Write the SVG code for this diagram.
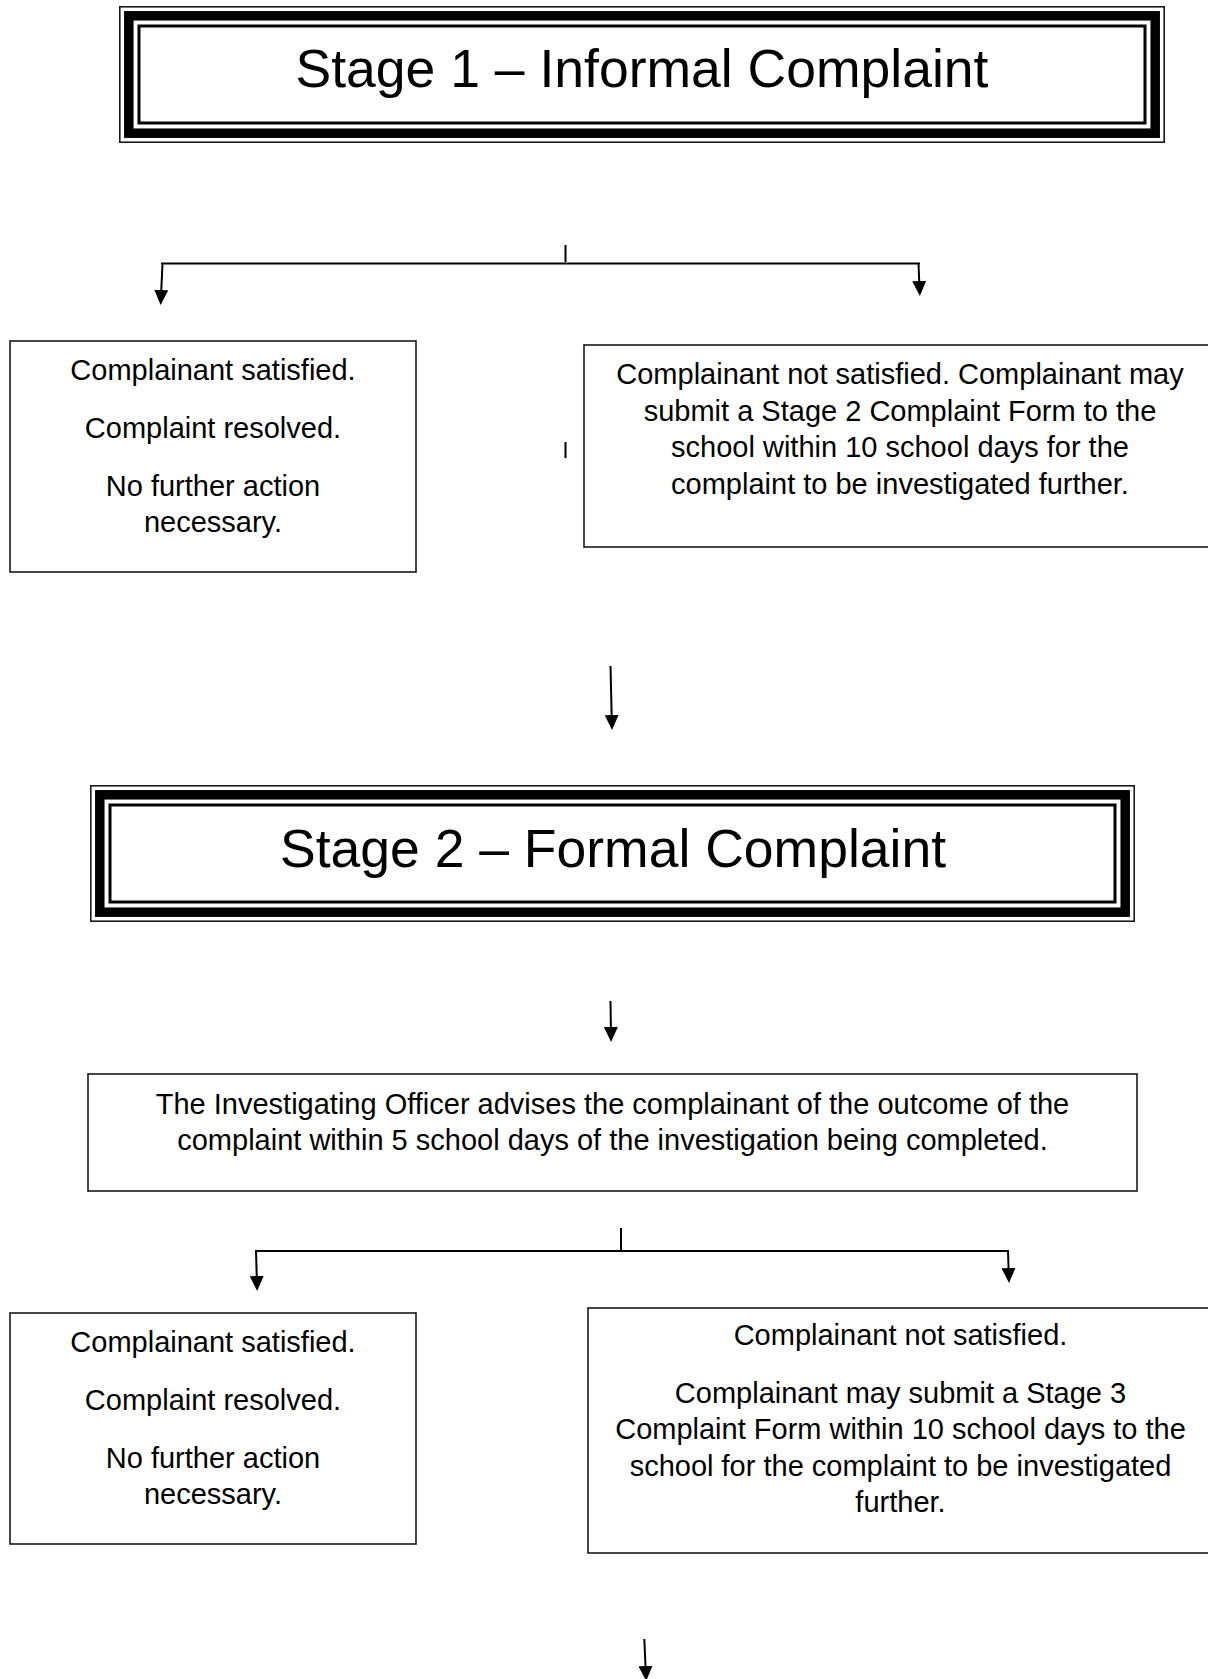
<svg xmlns="http://www.w3.org/2000/svg" width="1208" height="1679" viewBox="0 0 1208 1679">
<style>
  .bg { fill: #ffffff; }
  .box { fill: #ffffff; stroke: #1a1a1a; stroke-width: 1.6; }
  .tOuter { fill: none; stroke: #1a1a1a; stroke-width: 1.6; }
  .tBand { fill: none; stroke: #000000; stroke-width: 9.5; }
  .tInner { fill: none; stroke: #000000; stroke-width: 3; }
  .title { font-family: "Liberation Sans", Arial, sans-serif; font-size: 53.5px; fill: #000000; text-anchor: middle; }
  .txt { font-family: "Liberation Sans", Arial, sans-serif; font-size: 29px; fill: #000000; text-anchor: middle; }
  .ln { fill: none; stroke: #000000; stroke-width: 2; }
  .arr { fill: none; stroke: #000000; stroke-width: 2; marker-end: url(#ah); }
</style>
<defs>
  <marker id="ah" markerUnits="userSpaceOnUse" viewBox="0 0 15 14" refX="2" refY="7" markerWidth="15" markerHeight="14" orient="auto">
    <path d="M0,0 L15,7 L0,14 z" fill="#000000"/>
  </marker>
</defs>
<rect class="bg" x="0" y="0" width="1208" height="1679"/>

<g id="stage1">
  <rect class="tOuter" x="119.8" y="6.8" width="1044.4" height="135.4"/>
  <rect class="tBand" x="128.8" y="15.8" width="1026.4" height="117.4"/>
  <rect class="tInner" x="139" y="26" width="1006" height="97"/>
  <text class="title" x="642" y="87">Stage 1 – Informal Complaint</text>
</g>

<g id="s1-satisfied">
  <rect class="box" x="10" y="341" width="406" height="231"/>
  <text class="txt" x="213" y="380">Complainant satisfied.</text>
  <text class="txt" x="213" y="438">Complaint resolved.</text>
  <text class="txt" x="213" y="496">No further action</text>
  <text class="txt" x="213" y="532">necessary.</text>
</g>

<g id="s1-not-satisfied">
  <rect class="box" x="584" y="345" width="640" height="202"/>
  <text class="txt" x="900" y="384">Complainant not satisfied. Complainant may</text>
  <text class="txt" x="900" y="421">submit a Stage 2 Complaint Form to the</text>
  <text class="txt" x="900" y="457">school within 10 school days for the</text>
  <text class="txt" x="900" y="494">complaint to be investigated further.</text>
</g>

<g id="stage2">
  <rect class="tOuter" x="90.8" y="785.8" width="1043.4" height="135.4"/>
  <rect class="tBand" x="99.8" y="794.8" width="1025.4" height="117.4"/>
  <rect class="tInner" x="110" y="805" width="1005" height="97"/>
  <text class="title" x="613" y="867">Stage 2 – Formal Complaint</text>
</g>

<g id="s2-outcome">
  <rect class="box" x="88" y="1074" width="1049" height="117"/>
  <text class="txt" x="612.5" y="1114">The Investigating Officer advises the complainant of the outcome of the</text>
  <text class="txt" x="612.5" y="1150">complaint within 5 school days of the investigation being completed.</text>
</g>

<g id="s2-satisfied">
  <rect class="box" x="10" y="1313" width="406" height="231"/>
  <text class="txt" x="213" y="1352">Complainant satisfied.</text>
  <text class="txt" x="213" y="1410">Complaint resolved.</text>
  <text class="txt" x="213" y="1468">No further action</text>
  <text class="txt" x="213" y="1504">necessary.</text>
</g>

<g id="s2-not-satisfied">
  <rect class="box" x="588" y="1308" width="640" height="245"/>
  <text class="txt" x="900.5" y="1345">Complainant not satisfied.</text>
  <text class="txt" x="900.5" y="1403">Complainant may submit a Stage 3</text>
  <text class="txt" x="900.5" y="1439">Complaint Form within 10 school days to the</text>
  <text class="txt" x="900.5" y="1476">school for the complaint to be investigated</text>
  <text class="txt" x="900.5" y="1512">further.</text>
</g>

<g id="connectors">
  <line class="ln" x1="565.5" y1="245" x2="565.5" y2="262"/>
  <line class="ln" x1="161" y1="263.5" x2="920" y2="263.5"/>
  <line class="arr" x1="162.5" y1="263.5" x2="161.2" y2="292"/>
  <line class="arr" x1="918.5" y1="263.5" x2="919.3" y2="283"/>
  <line class="ln" x1="565.5" y1="442" x2="565.5" y2="458"/>
  <line class="arr" x1="610.5" y1="666" x2="611.7" y2="717"/>
  <line class="arr" x1="610.5" y1="1001" x2="610.9" y2="1029"/>
  <line class="ln" x1="621" y1="1228" x2="621" y2="1250"/>
  <line class="ln" x1="255" y1="1251" x2="1009" y2="1251"/>
  <line class="arr" x1="256" y1="1251" x2="256.8" y2="1278"/>
  <line class="arr" x1="1008" y1="1251" x2="1008.6" y2="1270"/>
  <line class="arr" x1="644.3" y1="1639" x2="645.6" y2="1668"/>
</g>
</svg>
